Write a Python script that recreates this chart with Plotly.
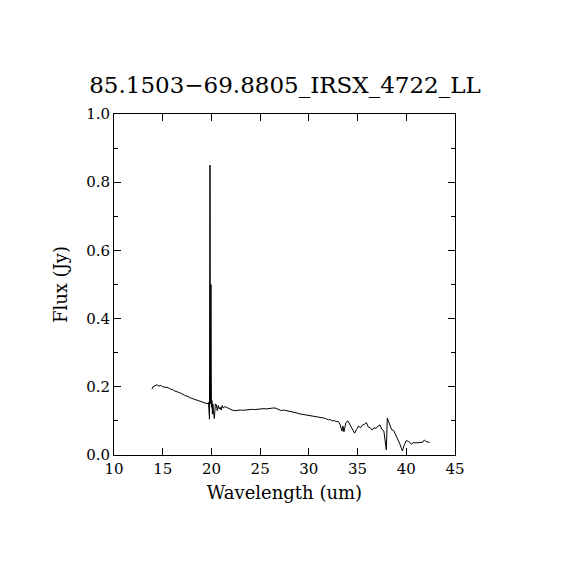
import plotly.graph_objects as go

# Spectrum
wavelength = [
    13.9, 14.0, 14.2, 14.4, 14.6, 14.8, 15.0, 15.2, 15.4, 15.6, 15.8, 16.0, 16.2, 16.4, 16.6,
    16.8, 17.0, 17.2, 17.4, 17.6, 17.8, 18.0, 18.2, 18.4, 18.6, 18.8, 19.0, 19.2, 19.4, 19.6,
    19.7, 19.75, 19.8, 19.85, 19.9, 19.95, 20.0, 20.05, 20.1, 20.15, 20.2, 20.3, 20.4, 20.5,
    20.6, 20.7, 20.8, 20.9, 21.0, 21.1, 21.2, 21.4, 21.6, 21.8, 22.0, 22.2, 22.4, 22.6, 22.8,
    23.0, 23.2, 23.4, 23.6, 23.8, 24.0, 24.2, 24.4, 24.6, 24.8, 25.0, 25.2, 25.4, 25.6, 25.8,
    26.0, 26.2, 26.4, 26.6, 26.8, 27.0, 27.2, 27.4, 27.6, 27.8, 28.0, 28.2, 28.4, 28.6, 28.8,
    29.0, 29.2, 29.4, 29.6, 29.8, 30.0, 30.2, 30.4, 30.6, 30.8, 31.0, 31.2, 31.4, 31.6, 31.8,
    32.0, 32.2, 32.4, 32.6, 32.8, 33.0, 33.2, 33.4, 33.5, 33.6, 33.8, 34.0, 34.2, 34.4, 34.6,
    34.7, 34.9, 35.1, 35.3, 35.5, 35.7, 35.9, 36.1, 36.3, 36.5, 36.7, 36.9, 37.1, 37.3, 37.5,
    37.7, 37.85, 37.95, 38.05, 38.2, 38.4, 38.5, 38.7, 38.9, 39.1, 39.3, 39.5, 39.6, 39.8,
    40.0, 40.2, 40.4, 40.55, 40.7, 40.9, 41.1, 41.3, 41.5, 41.7, 41.85, 42.0, 42.2, 42.4,
]
flux = [
    0.193, 0.200, 0.203, 0.206, 0.202, 0.204, 0.200, 0.199, 0.197, 0.197, 0.193, 0.192, 0.188, 0.187, 0.184,
    0.182, 0.178, 0.176, 0.173, 0.172, 0.168, 0.166, 0.164, 0.161, 0.160, 0.157, 0.157, 0.154, 0.153, 0.150,
    0.155, 0.120, 0.105, 0.850, 0.150, 0.500, 0.140, 0.160, 0.120, 0.150, 0.130, 0.107, 0.150, 0.147,
    0.130, 0.145, 0.135, 0.140, 0.132, 0.145, 0.138, 0.142, 0.139, 0.136, 0.133, 0.131, 0.130, 0.131, 0.130,
    0.132, 0.131, 0.132, 0.133, 0.132, 0.133, 0.134, 0.133, 0.134, 0.135, 0.135, 0.135, 0.136, 0.135, 0.136,
    0.136, 0.137, 0.138, 0.137, 0.134, 0.131, 0.130, 0.132, 0.131, 0.129, 0.128, 0.127, 0.126, 0.125, 0.123,
    0.121, 0.120, 0.120, 0.118, 0.118, 0.117, 0.116, 0.114, 0.115, 0.112, 0.113, 0.110, 0.111, 0.108, 0.106,
    0.103, 0.104, 0.100, 0.101, 0.098, 0.099, 0.090, 0.070, 0.085, 0.068, 0.095, 0.100, 0.090, 0.080, 0.070,
    0.064, 0.075, 0.085, 0.080, 0.088, 0.090, 0.095, 0.082, 0.080, 0.073, 0.080, 0.078, 0.085, 0.088, 0.075,
    0.070, 0.040, 0.015, 0.108, 0.095, 0.080, 0.074, 0.072, 0.060, 0.050, 0.035, 0.020, 0.012, 0.030,
    0.042, 0.040, 0.035, 0.032, 0.036, 0.035, 0.036, 0.036, 0.037, 0.038, 0.044, 0.040, 0.038, 0.037,
]

title_text = "85.1503\u221269.8805_IRSX_4722_LL"
x_ticks = [10, 15, 20, 25, 30, 35, 40, 45]
y_ticks = [0.0, 0.2, 0.4, 0.6, 0.8, 1.0]
y_minor = [0.1, 0.3, 0.5, 0.7, 0.9]

FONT = "DejaVu Serif"
W = H = 554  # page adds an 8 px body margin

fig = go.Figure()
fig.add_trace(go.Scatter(
    x=wavelength, y=flux, mode="lines",
    line=dict(color="black", width=1),
    showlegend=False, hoverinfo="skip",
))

axis_common = dict(
    showgrid=False, zeroline=False,
    showline=True, linecolor="black", linewidth=1, mirror="ticks",
    ticks="inside", ticklen=7, tickcolor="black", tickwidth=1,
    tickfont=dict(family=FONT, size=15, color="black"),
)

fig.update_layout(
    width=W, height=H,
    paper_bgcolor="white", plot_bgcolor="white",
    margin=dict(l=106, r=107, t=106, b=107),
    title=dict(text=title_text, x=0.5, xanchor="center",
               y=1 - 77 / H, yanchor="middle", yref="container",
               font=dict(family=FONT, size=23, color="black")),
    xaxis=dict(
        range=[10, 45], tickvals=x_ticks, ticktext=[str(v) for v in x_ticks],
        title=dict(text="Wavelength (um)", standoff=9,
                   font=dict(family=FONT, size=18, color="black")),
        **axis_common,
    ),
    yaxis=dict(
        range=[0, 1], tickvals=y_ticks, ticktext=[f"{v:.1f}" for v in y_ticks],
        minor=dict(tickvals=y_minor, ticks="inside", ticklen=4, tickcolor="black"),
        title=dict(text="Flux (Jy)", standoff=13,
                   font=dict(family=FONT, size=18, color="black")),
        **axis_common,
    ),
)

fig.write_html("out.html")
